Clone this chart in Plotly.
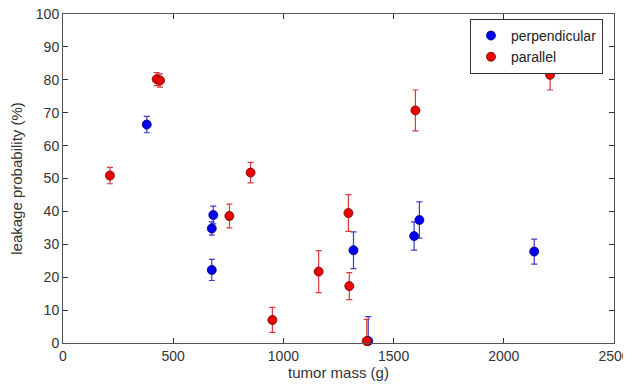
import plotly.graph_objects as go

# perpendicular series
perp_mass = [380, 675, 682, 675, 1318, 1385, 1593, 1617, 2138]
perp_prob = [66.4, 34.8, 38.9, 22.2, 28.2, 0.6, 32.5, 37.4, 27.8]
perp_err = [2.5, 2.0, 2.7, 3.2, 5.6, 7.4, 4.3, 5.5, 3.8]

# parallel series
par_mass = [213, 425, 440, 755, 851, 950, 1160, 1295, 1299, 1378, 1599, 2210]
par_prob = [50.9, 80.2, 79.8, 38.6, 51.8, 7.0, 21.7, 39.5, 17.3, 0.6, 70.7, 81.5]
par_err = [2.5, 2.0, 2.0, 3.6, 3.1, 3.8, 6.4, 5.6, 4.1, 6.6, 6.2, 4.6]

x_ticks = [0, 500, 1000, 1500, 2000, 2500]
y_ticks = [0, 10, 20, 30, 40, 50, 60, 70, 80, 90, 100]


def minus(vals, errs):
    return [min(v, e) for v, e in zip(vals, errs)]


FONT = "Liberation Sans, Arial"

fig = go.Figure()
fig.add_trace(go.Scatter(
    x=perp_mass, y=perp_prob, mode="markers", name="perpendicular",
    marker=dict(color="#0000ee", size=9, line=dict(color="#00007a", width=0.8)),
    error_y=dict(type="data", array=perp_err, arrayminus=minus(perp_prob, perp_err),
                 color="#3a3ad0", thickness=1.2, width=3),
    cliponaxis=False,
))
fig.add_trace(go.Scatter(
    x=par_mass, y=par_prob, mode="markers", name="parallel",
    marker=dict(color="#ee0000", size=9, line=dict(color="#6a0000", width=0.8)),
    error_y=dict(type="data", array=par_err, arrayminus=minus(par_prob, par_err),
                 color="#d83a3a", thickness=1.2, width=3),
    cliponaxis=False,
))

axis_common = dict(
    showline=True, linecolor="#555555", linewidth=1, mirror="ticks",
    ticks="inside", ticklen=5, tickcolor="#333333", showgrid=False, zeroline=False,
    automargin=False, ticklabeloverflow="allow",
    tickfont=dict(family=FONT, size=14, color="#333333"),
)

fig.update_layout(
    width=623, height=381,
    margin=dict(l=55, r=17, t=6, b=46),
    plot_bgcolor="white", paper_bgcolor="white",
    showlegend=True,
    legend=dict(
        x=0.980, y=0.985, xanchor="right", yanchor="top",
        bgcolor="white", bordercolor="#333333", borderwidth=1,
        font=dict(family=FONT, size=14, color="#222222"),
        tracegroupgap=0,
    ),
    xaxis=dict(range=[0, 2500], tickvals=x_ticks,
               title=dict(text="tumor mass (g)", standoff=0,
                          font=dict(family=FONT, size=15, color="#333333")),
               **axis_common),
    yaxis=dict(range=[0, 100], tickvals=y_ticks,
               title=dict(text="leakage probability (%)", standoff=14,
                          font=dict(family=FONT, size=15, color="#333333")),
               **axis_common),
)

fig.write_html("out.html")
